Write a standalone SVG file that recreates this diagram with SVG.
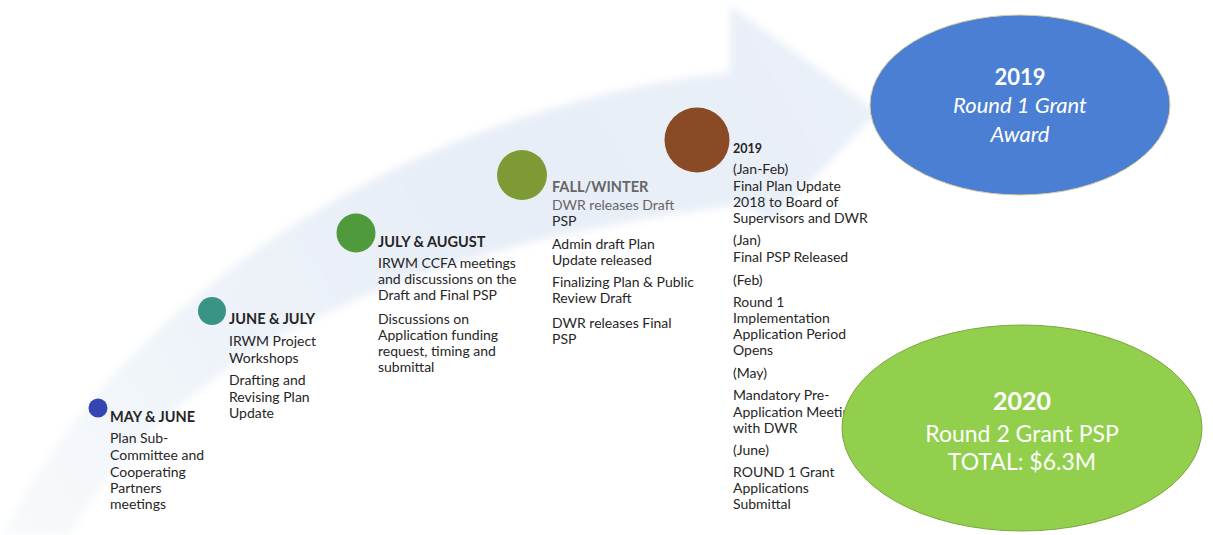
<svg xmlns="http://www.w3.org/2000/svg" width="1213" height="535" viewBox="0 0 1213 535">
  <defs>
    <linearGradient id="arrowFill" gradientUnits="userSpaceOnUse" x1="0" y1="535" x2="820" y2="60">
      <stop offset="0" stop-color="#f8fafc"/>
      <stop offset="0.3" stop-color="#eef3f9"/>
      <stop offset="0.6" stop-color="#e7eef7"/>
      <stop offset="1" stop-color="#eaf0f8"/>
    </linearGradient>
    <filter id="soft" x="-5%" y="-5%" width="110%" height="110%">
      <feGaussianBlur stdDeviation="4"/>
    </filter>
    <style>
      .body { font-family: Lato, "Open Sans", "Liberation Sans", sans-serif; font-size: 14px; fill: #262626; }
      .head { font-family: Lato, "Open Sans", "Liberation Sans", sans-serif; font-size: 14.5px; font-weight: bold; fill: #262626; }
      .faded { fill: #666; }
      .oval-text { font-family: Lato, "Open Sans", "Liberation Sans", sans-serif; fill: #fff; text-anchor: middle; }
    </style>
  </defs>

  <rect width="1213" height="535" fill="#fff"/>

  <!-- timeline arrow sweeping up to the right -->
  <g id="connectors">
    <path filter="url(#soft)" fill="url(#arrowFill)"
          d="M 2,535 C 120,300 400,110 730,72 L 730,5 L 878,112 L 772,222 L 742,205 C 450,240 190,330 70,535 Z"/>
  </g>

  <!-- May & June -->
  <g id="node-may-june">
    <circle cx="98" cy="408" r="9.5" fill="#3546b3"/>
    <text class="head" x="110" y="422">MAY &amp; JUNE</text>
    <text class="body" x="110" y="443">Plan Sub-</text>
    <text class="body" x="110" y="460">Committee and</text>
    <text class="body" x="110" y="476.5">Cooperating</text>
    <text class="body" x="110" y="492.5">Partners</text>
    <text class="body" x="110" y="508.5">meetings</text>
  </g>

  <!-- June & July -->
  <g id="node-june-july">
    <circle cx="212" cy="311" r="14" fill="#3a9486"/>
    <text class="head" x="229" y="324">JUNE &amp; JULY</text>
    <text class="body" x="229" y="346">IRWM Project</text>
    <text class="body" x="229" y="362.5">Workshops</text>
    <text class="body" x="229" y="385">Drafting and</text>
    <text class="body" x="229" y="401.5">Revising Plan</text>
    <text class="body" x="229" y="418">Update</text>
  </g>

  <!-- July & August -->
  <g id="node-july-august">
    <circle cx="356" cy="233" r="19.5" fill="#4f9a3b"/>
    <text class="head" x="378" y="246.5">JULY &amp; AUGUST</text>
    <text class="body" x="378" y="268">IRWM CCFA meetings</text>
    <text class="body" x="378" y="284">and discussions on the</text>
    <text class="body" x="378" y="300">Draft and Final PSP</text>
    <text class="body" x="378" y="324">Discussions on</text>
    <text class="body" x="378" y="340">Application funding</text>
    <text class="body" x="378" y="356">request, timing and</text>
    <text class="body" x="378" y="372">submittal</text>
  </g>

  <!-- Fall / Winter -->
  <g id="node-fall-winter">
    <circle cx="522" cy="175" r="25" fill="#7d9a34"/>
    <text class="head faded" x="552" y="191.5">FALL/WINTER</text>
    <text class="body faded" x="552" y="210">DWR releases Draft</text>
    <text class="body" x="552" y="226">PSP</text>
    <text class="body" x="552" y="248.5">Admin draft Plan</text>
    <text class="body" x="552" y="264.5">Update released</text>
    <text class="body" x="552" y="287">Finalizing Plan &amp; Public</text>
    <text class="body" x="552" y="303">Review Draft</text>
    <text class="body" x="552" y="327.5">DWR releases Final</text>
    <text class="body" x="552" y="343.5">PSP</text>
  </g>

  <!-- 2019 -->
  <g id="node-2019">
    <circle cx="697" cy="140" r="32.5" fill="#8a4a26"/>
    <text class="head" x="733" y="153" style="font-size:12.5px">2019</text>
    <text class="body" x="733" y="174">(Jan-Feb)</text>
    <text class="body" x="733" y="190.5">Final Plan Update</text>
    <text class="body" x="733" y="206.5">2018 to Board of</text>
    <text class="body" x="733" y="222.5">Supervisors and DWR</text>
    <text class="body" x="733" y="245">(Jan)</text>
    <text class="body" x="733" y="261.5">Final PSP Released</text>
    <text class="body" x="733" y="285">(Feb)</text>
    <text class="body" x="733" y="306.5">Round 1</text>
    <text class="body" x="733" y="322.5">Implementation</text>
    <text class="body" x="733" y="339">Application Period</text>
    <text class="body" x="733" y="355">Opens</text>
    <text class="body" x="733" y="378">(May)</text>
    <text class="body" x="733" y="400">Mandatory Pre-</text>
    <text class="body" x="733" y="416.5">Application Meeting</text>
    <text class="body" x="733" y="432.5">with DWR</text>
    <text class="body" x="733" y="455">(June)</text>
    <text class="body" x="733" y="476.5">ROUND 1 Grant</text>
    <text class="body" x="733" y="493">Applications</text>
    <text class="body" x="733" y="509">Submittal</text>
  </g>

  <!-- Round 1 award -->
  <g id="node-round1-award">
    <ellipse cx="1020" cy="105" rx="150" ry="90" fill="#4b7fd3" stroke="#d8cf9e" stroke-width="1"/>
    <text class="oval-text" x="1020" y="85" style="font-size:22px;font-weight:bold">2019</text>
    <text class="oval-text" x="1020" y="113" style="font-size:22px;font-style:italic">Round 1 Grant</text>
    <text class="oval-text" x="1020" y="142" style="font-size:22px;font-style:italic">Award</text>
  </g>

  <!-- Round 2 PSP -->
  <g id="node-round2-psp">
    <ellipse cx="1022" cy="428" rx="180" ry="103" fill="#92cf4c" stroke="#7ea63e" stroke-width="1"/>
    <text class="oval-text" x="1022" y="410" style="font-size:25px;font-weight:bold">2020</text>
    <text class="oval-text" x="1022" y="442" style="font-size:23px">Round 2 Grant PSP</text>
    <text class="oval-text" x="1022" y="470" style="font-size:23px">TOTAL: $6.3M</text>
  </g>
</svg>
